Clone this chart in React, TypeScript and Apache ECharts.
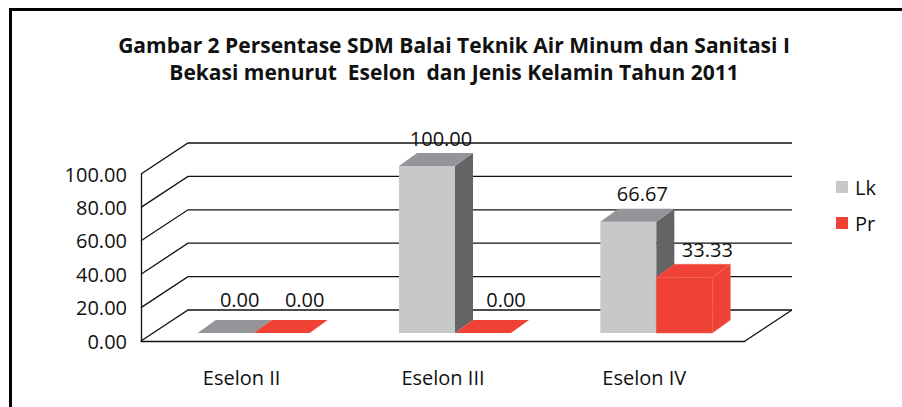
import React, { useEffect, useRef } from "react";
import * as echarts from "echarts";

const titleLines = [
  "Gambar 2 Persentase SDM Balai Teknik Air Minum dan Sanitasi I",
  "Bekasi menurut  Eselon  dan Jenis Kelamin Tahun 2011",
];
const categories = ["Eselon II", "Eselon III", "Eselon IV"];
const seriesNames = ["Lk", "Pr"];
const lkValues = [0.0, 100.0, 66.67];
const prValues = [0.0, 0.0, 33.33];
const yTicks = [0, 20, 40, 60, 80, 100];

const FONT = "'Open Sans', 'Noto Sans', sans-serif";
const FS = 20;
// depth of the floor / walls
const DX = 47;
const DY = -31;
// bars sit a little inside the depth
const BAR_SHIFT_X = 12;
const BAR_SHIFT_Y = -8;
// bar depth
const BDX = 18;
const BDY = -13;
const BAR_W = 56;

const palette = {
  Lk: { front: "#C7C8CA", top: "#939598", side: "#636466", labelDx: 5 },
  Pr: { front: "#EF4136", top: "#EF4136", side: "#EE4237", labelDx: 14 },
};

function makeBarRender(name: string, seriesIdx: number) {
  const col = (palette as any)[name];
  return function (params: any, api: any) {
    const cat = api.value(0);
    const v = api.value(1);
    const base = api.coord([cat, 0]);
    const topPt = api.coord([cat, v]);
    const x0 = base[0] - BAR_W + seriesIdx * BAR_W + BAR_SHIFT_X;
    const x1 = x0 + BAR_W;
    const yb = base[1] + BAR_SHIFT_Y;
    const yt = topPt[1] + BAR_SHIFT_Y;
    const children: any[] = [];
    const hasH = yb - yt > 0.5;
    const edge = name === "Pr" ? "#F26A5E" : null;
    if (hasH) {
      children.push({
        type: "rect",
        shape: { x: x0, y: yt, width: BAR_W, height: yb - yt },
        style: { fill: col.front, stroke: edge, lineWidth: 0.6 },
      });
      children.push({
        type: "polygon",
        shape: {
          points: [
            [x1, yt],
            [x1 + BDX, yt + BDY],
            [x1 + BDX, yb + BDY],
            [x1, yb],
          ],
        },
        style: { fill: col.side, stroke: edge, lineWidth: 0.6 },
      });
    }
    children.push({
      type: "polygon",
      shape: {
        points: [
          [x0, yt],
          [x1, yt],
          [x1 + BDX, yt + BDY],
          [x0 + BDX, yt + BDY],
        ],
      },
      style: { fill: col.top, stroke: hasH ? edge : null, lineWidth: 0.6 },
    });
    children.push({
      type: "text",
      style: {
        text: v.toFixed(2),
        x: (x0 + x1) / 2 + BDX / 2 + col.labelDx,
        y: yt + BDY - (hasH ? 15 : 21),
        align: "center",
        verticalAlign: "middle",
        font: `${FS}px ${FONT}`,
        fill: "#111",
      },
    });
    return { type: "group", children };
  };
}

function gridRender(params: any, api: any) {
  const cs = params.coordSys;
  const v = api.value(0);
  const y = api.coord([0, v])[1];
  const left = cs.x;
  const right = cs.x + cs.width;
  const children: any[] = [
    {
      type: "polyline",
      shape: {
        points: [
          [left, y],
          [left + DX, y + DY],
          [right + DX, y + DY],
        ],
      },
      style: { stroke: "#111", lineWidth: 1.3, fill: null },
    },
  ];
  if (v === 0) {
    children.push({
      type: "line",
      shape: { x1: right, y1: y, x2: right + DX, y2: y + DY },
      style: { stroke: "#111", lineWidth: 1.3 },
    });
  }
  return { type: "group", children };
}

export default function App() {
  const ref = useRef<HTMLDivElement>(null);
  useEffect(() => {
    if (!ref.current) return;
    const chart = echarts.init(ref.current, null, { renderer: "svg" });
    const lkData = lkValues.map((v, i) => [i, v]);
    const prData = prValues.map((v, i) => [i, v]);
    chart.setOption({
      animation: false,
      backgroundColor: "#fff",
      title: {
        text: titleLines.join("\n"),
        left: 449,
        textAlign: "center",
        top: 26,
        textStyle: {
          fontFamily: FONT,
          fontWeight: "bold",
          fontSize: 21,
          lineHeight: 27,
          color: "#111",
        },
      },
      legend: {
        orient: "vertical",
        left: 831,
        top: 172,
        itemWidth: 12,
        itemHeight: 12,
        itemGap: 16,
        icon: "rect",
        data: seriesNames,
        textStyle: { fontFamily: FONT, fontSize: FS, color: "#111", padding: [0, 0, 0, 2] },
      },
      graphic: [
        {
          type: "rect",
          shape: { x: 10.5, y: 9.5, width: 1000, height: 600 },
          style: { fill: null, stroke: "#000", lineWidth: 3 },
          silent: true,
        },
      ],
      grid: { left: 141, top: 174, width: 604, height: 167 },
      xAxis: {
        type: "category",
        data: categories,
        axisLine: { show: true, lineStyle: { color: "#111", width: 1.3 } },
        axisTick: { show: false },
        axisLabel: { margin: 26, fontFamily: FONT, fontSize: FS, color: "#111" },
      },
      yAxis: {
        type: "value",
        min: 0,
        max: 100,
        interval: 20,
        axisLine: { show: true, lineStyle: { color: "#111", width: 1.3 } },
        axisTick: { show: false },
        splitLine: { show: false },
        axisLabel: {
          margin: 14,
          fontFamily: FONT,
          fontSize: FS,
          color: "#111",
          formatter: (v: number) => v.toFixed(2),
        },
      },
      series: [
        {
          type: "custom",
          name: "_grid",
          silent: true,
          z: 1,
          renderItem: gridRender,
          data: yTicks.map((t) => [t]),
          encode: { y: 0 },
        },
        {
          type: "custom",
          name: "Lk",
          z: 3,
          itemStyle: { color: palette.Lk.front },
          renderItem: makeBarRender("Lk", 0),
          data: lkData,
          encode: { x: 0, y: 1 },
        },
        {
          type: "custom",
          name: "Pr",
          z: 4,
          itemStyle: { color: palette.Pr.front },
          renderItem: makeBarRender("Pr", 1),
          data: prData,
          encode: { x: 0, y: 1 },
        },
      ],
    });
    return () => chart.dispose();
  }, []);
  return (
    <div
      ref={ref}
      style={{ position: "fixed", left: 0, top: 0, width: 902, height: 407 }}
    />
  );
}
